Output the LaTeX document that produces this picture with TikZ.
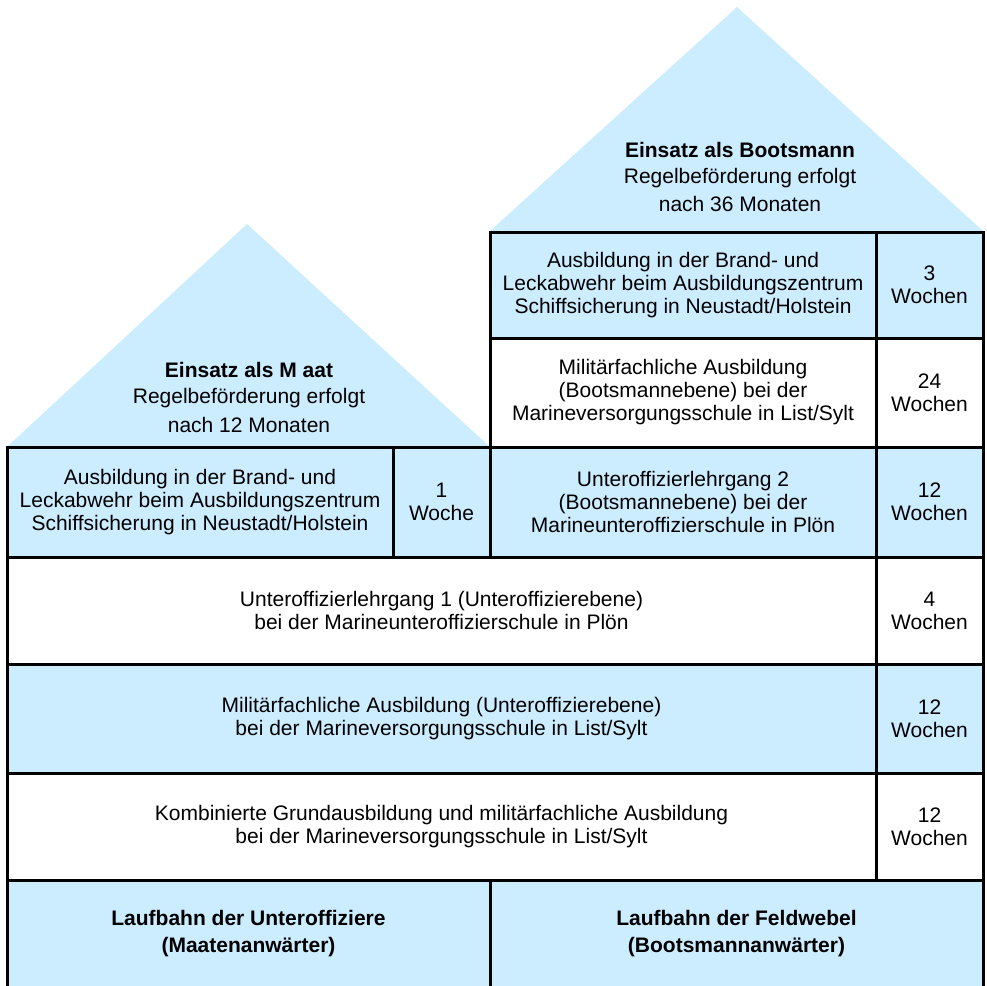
\documentclass[tikz,border=0pt]{standalone}
\usepackage{fontspec}
\setmainfont{Liberation Sans}
\usetikzlibrary{calc}
\definecolor{paleblue}{RGB}{204,236,255}
\newcommand{\cellsize}{\fontsize{21}{23}\selectfont}
\newcommand{\roofsize}{\fontsize{21}{26}\selectfont}
\tikzset{
  cell/.style={draw, line width=3pt, inner sep=0pt, align=center, font=\cellsize},
  bluecell/.style={cell, fill=paleblue},
  whitecell/.style={cell, fill=white},
  rooftext/.style={align=center, inner sep=0pt, font=\roofsize},
}

\begin{document}
\begin{tikzpicture}[x=1pt,y=-1pt]
\clip (0,0) rectangle (987,985);
\coordinate (ml) at (7,447);
\coordinate (mt) at (247,224);
\coordinate (mr) at (490,447);
\coordinate (bl) at (490,231);
\coordinate (bt) at (737,7);
\coordinate (br) at (983,231);
\fill[paleblue] (ml)--(mt)--(mr)--cycle;
\fill[paleblue] (bl)--(bt)--(br)--cycle;
\node[rooftext] (maat) at (249,397) {\textbf{Einsatz als M aat}\\Regelbeförderung erfolgt\\[3pt]nach 12 Monaten};
\node[rooftext] (boots) at (740,177) {\textbf{Einsatz als Bootsmann}\\Regelbeförderung erfolgt\\[2pt]nach 36 Monaten};

% Bootsmann
\node[bluecell, minimum width=386pt, minimum height=106pt] (brandb) at (683,285)
  {Ausbildung in der Brand- und\\Leckabwehr beim Ausbildungszentrum\\Schiffsicherung in Neustadt/Holstein};
\node[bluecell, minimum width=107pt, minimum height=106pt] (brandbw) at (929.5,285) {3\\Wochen};
\node[whitecell, minimum width=386pt, minimum height=109pt] (fachb) at (683,392.5)
  {Militärfachliche Ausbildung\\(Bootsmannebene) bei der\\Marineversorgungsschule in List/Sylt};
\node[whitecell, minimum width=107pt, minimum height=109pt] (fachbw) at (929.5,392.5) {24\\Wochen};
\node[bluecell, minimum width=386pt, minimum height=110pt] (uolg2) at (683,502)
  {Unteroffizierlehrgang 2\\(Bootsmannebene) bei der\\Marineunteroffizierschule in Plön};
\node[bluecell, minimum width=107pt, minimum height=110pt] (uolg2w) at (929.5,502) {12\\Wochen};

% Maat
\node[bluecell, minimum width=386pt, minimum height=110pt] (brandm) at (200,502)
  {Ausbildung in der Brand- und\\Leckabwehr beim Ausbildungszentrum\\Schiffsicherung in Neustadt/Holstein};
\node[bluecell, minimum width=97pt, minimum height=110pt] (brandmw) at (441.5,502) {1\\Woche};

% gemeinsam
\node[whitecell, minimum width=869pt, minimum height=107pt] (uolg1) at (441.5,610.5)
  {Unteroffizierlehrgang 1 (Unteroffizierebene)\\bei der Marineunteroffizierschule in Plön};
\node[whitecell, minimum width=107pt, minimum height=107pt] (uolg1w) at (929.5,610.5) {4\\Wochen};
\node[bluecell, minimum width=869pt, minimum height=109pt] (fachu) at (441.5,718.5)
  {Militärfachliche Ausbildung (Unteroffizierebene)\\bei der Marineversorgungsschule in List/Sylt};
\node[bluecell, minimum width=107pt, minimum height=109pt] (fachuw) at (929.5,718.5) {12\\Wochen};
\node[whitecell, minimum width=869pt, minimum height=107pt] (grund) at (441.5,826.5)
  {Kombinierte Grundausbildung und militärfachliche Ausbildung\\bei der Marineversorgungsschule in List/Sylt};
\node[whitecell, minimum width=107pt, minimum height=107pt] (grundw) at (929.5,826.5) {12\\Wochen};

\node[bluecell, minimum width=483pt, minimum height=108pt, font=\fontsize{21}{27}\selectfont\bfseries] (lbu) at (248.5,934)
  {Laufbahn der Unteroffiziere\\(Maatenanwärter)};
\node[bluecell, minimum width=493pt, minimum height=108pt, font=\fontsize{21}{27}\selectfont\bfseries] (lbf) at (736.5,934)
  {Laufbahn der Feldwebel\\(Bootsmannanwärter)};
\end{tikzpicture}
\end{document}
